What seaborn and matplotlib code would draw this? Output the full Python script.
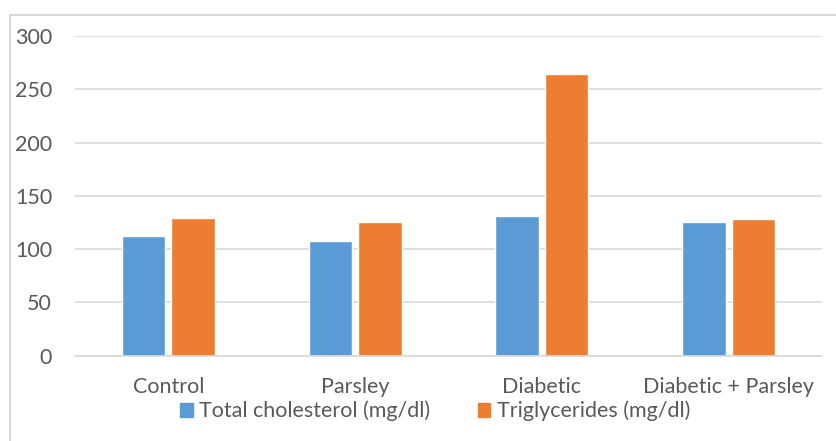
import matplotlib.pyplot as plt
import matplotlib.patches as mpatches
import pandas as pd
import seaborn as sns

groups = ["Control", "Parsley", "Diabetic", "Diabetic + Parsley"]
series = ["Total cholesterol (mg/dl)", "Triglycerides (mg/dl)"]
cholesterol = [112, 108, 131, 125]
triglycerides = [129, 125, 264, 128]
y_ticks = [0, 50, 100, 150, 200, 250, 300]

colors = ["#5B9BD5", "#ED7D31"]
text_color = "#595959"
grid_color = "#D9D9D9"

df = pd.DataFrame({
    "group": groups * 2,
    "series": [series[0]] * len(groups) + [series[1]] * len(groups),
    "value": cholesterol + triglycerides,
})

sns.set_style("white")
plt.rcParams["font.family"] = ["Lato", "DejaVu Sans"]

fig = plt.figure(figsize=(8.37, 4.41), dpi=100)
ax = fig.add_axes([0.0896, 0.1934, 0.8924, 0.725])

# outer chart frame like Excel
fig.patches.append(mpatches.Rectangle((10 / 837, -0.05), 1.0, 1 - 15 / 441 + 0.05,
                                      transform=fig.transFigure, fill=False,
                                      edgecolor=grid_color, linewidth=1.5))

sns.barplot(data=df, x="group", y="value", hue="series", order=groups,
            hue_order=series, palette=colors, width=0.53, gap=0.12,
            saturation=1, ax=ax, legend=False)

ax.set_ylim(0, 300)
ax.set_yticks(y_ticks)
ax.set_xlim(-0.5, len(groups) - 0.5)
ax.yaxis.grid(True, color=grid_color, linewidth=1.2)
ax.set_axisbelow(True)
for s in ["top", "right", "left"]:
    ax.spines[s].set_visible(False)
ax.spines["bottom"].set_color(grid_color)
ax.spines["bottom"].set_linewidth(1.2)
ax.tick_params(axis="both", length=0, labelsize=15.5, colors=text_color)
ax.tick_params(axis="y", pad=16.5)
ax.tick_params(axis="x", pad=15)
ax.set_xlabel("")
ax.set_ylabel("")

handles = [mpatches.Patch(color=c, label=s) for c, s in zip(colors, series)]
fig.legend(handles=handles, loc="center", bbox_to_anchor=(435 / 837, 1 - 411 / 441),
           ncol=2, frameon=False, fontsize=15.5, handlelength=0.6, handleheight=0.6,
           handletextpad=0.3, columnspacing=2.2, labelcolor=text_color, borderpad=0)

fig.savefig("out.png", dpi=100)
